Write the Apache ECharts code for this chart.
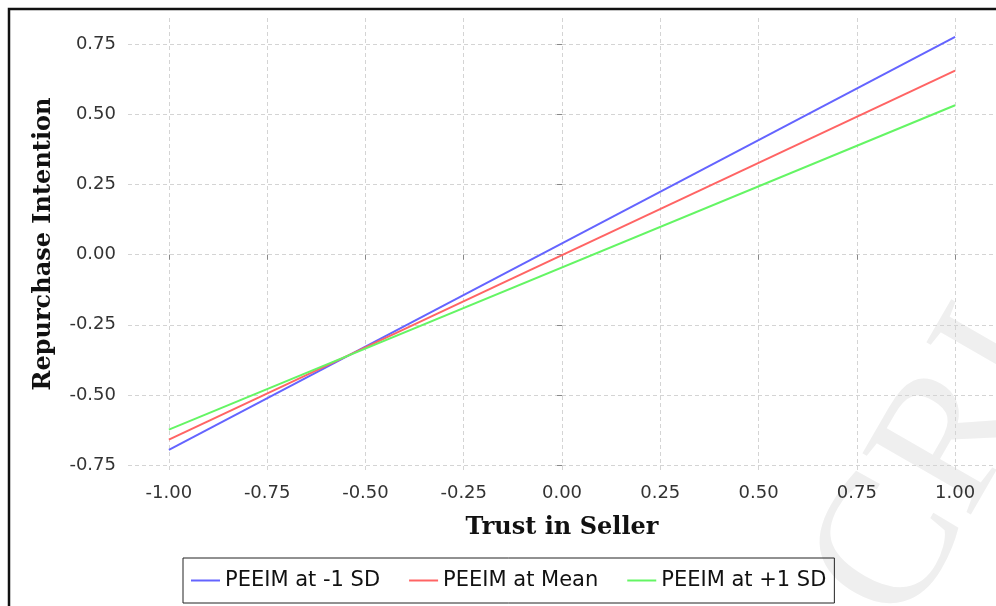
<!DOCTYPE html>
<html>
<head>
<meta charset="utf-8">
<title>Repurchase Intention</title>
<script src="https://cdn.jsdelivr.net/npm/echarts@6/dist/echarts.min.js"></script>
<style>
  html, body { margin: 0; padding: 0; background: #fff; }
  #chart { width: 996px; height: 606px; }
</style>
</head>
<body>
<div id="chart"></div>
<script>
// values
const xValues = [-1, 1];
const seriesNames = ['PEEIM at -1 SD', 'PEEIM at Mean', 'PEEIM at +1 SD'];
const lowPeeim = [-0.696, 0.777];
const meanPeeim = [-0.660, 0.656];
const highPeeim = [-0.624, 0.533];
const xTicks = [-1, -0.75, -0.5, -0.25, 0, 0.25, 0.5, 0.75, 1];
const yTicks = [-0.75, -0.5, -0.25, 0, 0.25, 0.5, 0.75];

const colors = ['#6464ff', '#ff6464', '#64f564'];
const tickFont = 'DejaVu Sans';

const chart = echarts.init(document.getElementById('chart'));

const toPoints = (vals) => xValues.map((x, i) => [x, vals[i]]);

const makeSeries = (name, vals, color) => ({
    name: name,
    type: 'line',
    data: toPoints(vals),
    symbol: 'none',
    lineStyle: { color: color, width: 2 },
    itemStyle: { color: color },
    z: 3
});

chart.setOption({
    animation: false,
    backgroundColor: '#fff',
    grid: {
        left: 128,
        right: 0,
        top: 18,
        bottom: 136
    },
    xAxis: {
        type: 'value',
        min: -1.104,
        max: 1.104,
        name: 'Trust in Seller',
        nameLocation: 'middle',
        nameGap: 46,
        nameTextStyle: {
            fontFamily: 'DejaVu Serif',
            fontWeight: 'bold',
            fontSize: 24,
            color: '#111'
        },
        axisLine: { show: false },
        axisTick: {
            show: true,
            customValues: xTicks,
            length: 5,
            lineStyle: { color: '#888' }
        },
        axisLabel: {
            customValues: xTicks,
            formatter: (v) => v.toFixed(2),
            margin: 14,
            fontFamily: tickFont,
            fontSize: 18,
            color: '#333'
        },
        splitLine: {
            show: true,
            lineStyle: { color: '#d4d4d4', type: [4, 3], width: 1 }
        }
    },
    yAxis: {
        type: 'value',
        min: -0.768,
        max: 0.844,
        name: 'Repurchase Intention',
        nameLocation: 'middle',
        nameGap: 72,
        nameTextStyle: {
            fontFamily: 'DejaVu Serif',
            fontWeight: 'bold',
            fontSize: 24,
            color: '#111'
        },
        axisLine: { show: false },
        axisTick: {
            show: true,
            customValues: yTicks,
            length: 5,
            lineStyle: { color: '#888' }
        },
        axisLabel: {
            customValues: yTicks,
            formatter: (v) => v.toFixed(2),
            margin: 12,
            fontFamily: tickFont,
            fontSize: 18,
            color: '#333'
        },
        splitLine: {
            show: true,
            lineStyle: { color: '#d4d4d4', type: [4, 3], width: 1 }
        }
    },
    legend: {
        left: 183,
        top: 558,
        orient: 'horizontal',
        data: seriesNames,
        icon: 'rect',
        itemWidth: 29,
        itemHeight: 2,
        itemGap: 29,
        padding: [12, 8, 12, 8],
        borderColor: '#222',
        borderWidth: 1,
        textStyle: {
            fontFamily: tickFont,
            fontSize: 21,
            color: '#111'
        }
    },
    graphic: [
        {
            // faint watermark in the lower right corner
            type: 'text',
            x: 940,
            y: 468,
            rotation: 60 * Math.PI / 180,
            z: -1,
            silent: true,
            style: {
                text: 'CRI',
                font: '190px "Liberation Serif"',
                fill: '#efefef',
                align: 'center',
                verticalAlign: 'middle'
            }
        },
        {
            // outer frame of the picture
            type: 'rect',
            z: 100,
            silent: true,
            shape: { x: 9, y: 9, width: 1100, height: 800 },
            style: { fill: null, stroke: '#111', lineWidth: 2.5 }
        }
    ],
    series: [
        makeSeries(seriesNames[0], lowPeeim, colors[0]),
        makeSeries(seriesNames[1], meanPeeim, colors[1]),
        makeSeries(seriesNames[2], highPeeim, colors[2])
    ]
});

window.addEventListener('resize', function() {
    chart.resize();
});
</script>
</body>
</html>
